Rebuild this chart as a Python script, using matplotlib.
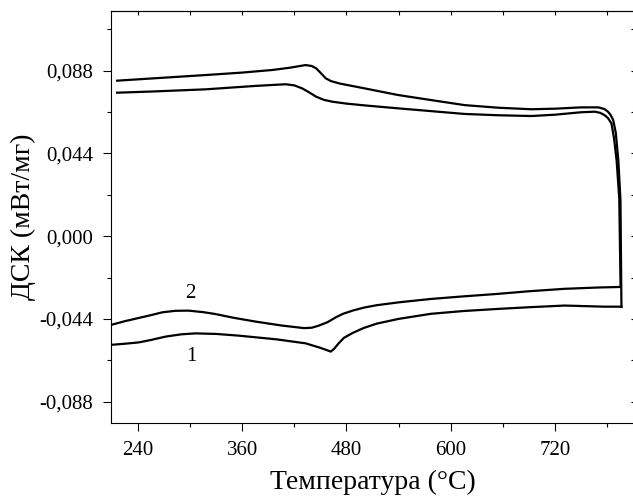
import matplotlib
matplotlib.use("Agg")
from matplotlib import pyplot as plt
from matplotlib.ticker import MultipleLocator

# верхние кривые (нагрев)
t_up_a = [216, 260, 318, 360, 395, 415, 433, 440, 445, 451, 456, 462, 472, 502, 539, 580, 616, 655, 693, 720, 750, 770, 777, 781, 784, 787, 790, 793, 795.4, 796.5]
dsc_up_a = [0.0827, 0.0840, 0.0857, 0.0870, 0.0884, 0.0896, 0.0910, 0.0905, 0.0893, 0.0865, 0.0840, 0.0825, 0.0812, 0.0785, 0.0751, 0.0722, 0.0697, 0.0683, 0.0675, 0.0678, 0.0685, 0.0685, 0.0676, 0.0662, 0.0645, 0.0618, 0.0550, 0.0400, 0.0190, -0.0375]

t_up_b = [216, 260, 318, 375, 410, 420, 429, 437, 445, 454, 464, 480, 502, 539, 580, 616, 655, 693, 720, 750, 766, 772, 777, 781, 785, 788, 791, 794, 795.5]
dsc_up_b = [0.0763, 0.0770, 0.0781, 0.0799, 0.0808, 0.0802, 0.0786, 0.0765, 0.0742, 0.0725, 0.0715, 0.0705, 0.0695, 0.0680, 0.0664, 0.0650, 0.0643, 0.0639, 0.0646, 0.0659, 0.0662, 0.0656, 0.0644, 0.0628, 0.0600, 0.0520, 0.0400, 0.0200, -0.0270]

# нижние кривые (охлаждение), 2 и 1
t_low_2 = [795.5, 770, 731, 690, 654, 615, 577, 540, 515, 500, 487, 476, 468, 458, 448, 440, 431, 405, 375, 350, 329, 315, 298, 283, 268, 255, 241, 225, 209]
dsc_low_2 = [-0.0270, -0.0273, -0.0280, -0.0293, -0.0307, -0.0320, -0.0334, -0.0352, -0.0367, -0.0380, -0.0396, -0.0413, -0.0431, -0.0458, -0.0476, -0.0487, -0.0489, -0.0475, -0.0454, -0.0434, -0.0414, -0.0404, -0.0396, -0.0397, -0.0405, -0.0420, -0.0435, -0.0452, -0.0472]

t_low_1 = [796.5, 777, 731, 690, 654, 615, 577, 540, 515, 500, 487, 477, 471, 466, 462, 455, 448, 433, 400, 356, 330, 306, 290, 272, 255, 241, 225, 209]
dsc_low_1 = [-0.0375, -0.0375, -0.0369, -0.0378, -0.0387, -0.0398, -0.0413, -0.0440, -0.0465, -0.0488, -0.0515, -0.0541, -0.0570, -0.0598, -0.0614, -0.0602, -0.0591, -0.0570, -0.0549, -0.0529, -0.0520, -0.0517, -0.0522, -0.0534, -0.0552, -0.0565, -0.0572, -0.0578]

plt.rcParams["font.family"] = ["Liberation Serif", "DejaVu Serif"]

fig = plt.figure(figsize=(6.33, 4.96), dpi=100)
ax = fig.add_axes([0.1754, 0.1478, 1.003 - 0.1754, 0.978 - 0.1478])

for t, d in [(t_up_a, dsc_up_a), (t_up_b, dsc_up_b), (t_low_2, dsc_low_2), (t_low_1, dsc_low_1)]:
    ax.plot(t, d, color="black", lw=1.6, solid_joinstyle="round")

ax.text(300, -0.0303, "2", fontsize=15, ha="center", va="center")
ax.text(302, -0.0638, "1", fontsize=15, ha="center", va="center")

ax.set_xlim(209, 812)
ax.set_ylim(-0.0992, 0.1198)
ax.set_xticks([240, 360, 480, 600, 720])
ax.xaxis.set_minor_locator(MultipleLocator(60))
ax.set_yticks([-0.088, -0.044, 0.0, 0.044, 0.088])
ax.set_yticklabels(["-0,088", "-0,044", "0,000", "0,044", "0,088"])
ax.yaxis.set_minor_locator(MultipleLocator(0.022))
ax.tick_params(which="major", direction="out", length=6, width=0.8, labelsize=15, pad=7)
ax.tick_params(which="minor", direction="out", length=3, width=0.8)

top = ax.secondary_xaxis("top")
top.set_xticks([240, 300, 360, 420, 480, 540, 600, 660, 720, 780])
top.tick_params(direction="in", length=3, labeltop=False)
right = ax.secondary_yaxis("right")
right.set_yticks([-0.088, -0.066, -0.044, -0.022, 0.0, 0.022, 0.044, 0.066, 0.088, 0.11])
right.tick_params(direction="in", length=3, labelright=False)

ax.set_xlabel("Температура (°C)", fontsize=20, labelpad=7)
ax.set_ylabel("ДСК (мВт/мг)", fontsize=20, labelpad=2)

plt.savefig("out.png", dpi=100)
